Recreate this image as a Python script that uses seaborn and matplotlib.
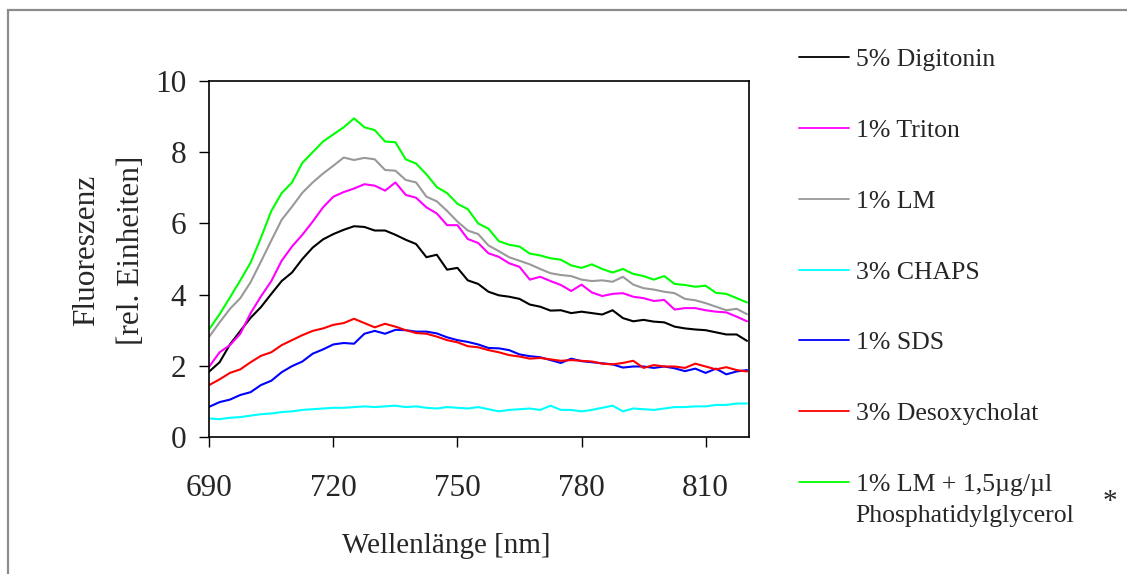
import numpy as np
import pandas as pd
import matplotlib
matplotlib.use("Agg")
import matplotlib.pyplot as plt
import matplotlib.patches as mpatches
import seaborn as sns

wellenlaenge = [690 + 2.5 * i for i in range(53)]

digitonin = [1.84, 2.10, 2.60, 2.98, 3.35, 3.65, 4.02, 4.38, 4.62, 5.00, 5.32, 5.55, 5.70, 5.82, 5.92,
             5.90, 5.80, 5.80, 5.68, 5.54, 5.42, 5.05, 5.12, 4.70, 4.75, 4.40, 4.30, 4.08, 3.98, 3.94,
             3.88, 3.72, 3.66, 3.55, 3.56, 3.48, 3.52, 3.48, 3.44, 3.56, 3.34, 3.25, 3.29, 3.24, 3.22,
             3.10, 3.05, 3.02, 3.00, 2.94, 2.88, 2.88, 2.70]
triton = [1.98, 2.38, 2.58, 2.90, 3.48, 3.95, 4.38, 4.95, 5.35, 5.68, 6.05, 6.45, 6.75, 6.88, 6.98,
          7.10, 7.06, 6.92, 7.15, 6.80, 6.72, 6.45, 6.28, 5.95, 5.95, 5.56, 5.45, 5.16, 5.06, 4.88,
          4.78, 4.42, 4.50, 4.38, 4.27, 4.10, 4.28, 4.06, 3.96, 4.02, 4.04, 3.94, 3.90, 3.82, 3.85,
          3.58, 3.62, 3.62, 3.56, 3.52, 3.50, 3.38, 3.25]
lm = [2.82, 3.22, 3.60, 3.90, 4.35, 4.93, 5.52, 6.10, 6.47, 6.86, 7.15, 7.40, 7.62, 7.85, 7.78,
      7.84, 7.80, 7.50, 7.48, 7.22, 7.15, 6.75, 6.62, 6.35, 6.05, 5.80, 5.70, 5.38, 5.22, 5.05,
      4.95, 4.85, 4.72, 4.60, 4.55, 4.52, 4.42, 4.38, 4.40, 4.36, 4.50, 4.28, 4.18, 4.14, 4.08,
      4.04, 3.88, 3.84, 3.76, 3.66, 3.56, 3.60, 3.45]
chaps = [0.52, 0.50, 0.54, 0.56, 0.60, 0.64, 0.66, 0.70, 0.72, 0.76, 0.78, 0.80, 0.82, 0.82, 0.84,
         0.86, 0.84, 0.86, 0.88, 0.84, 0.86, 0.82, 0.80, 0.84, 0.82, 0.80, 0.84, 0.78, 0.72, 0.76,
         0.78, 0.80, 0.76, 0.88, 0.76, 0.76, 0.72, 0.76, 0.82, 0.88, 0.72, 0.80, 0.78, 0.76, 0.80,
         0.84, 0.84, 0.86, 0.86, 0.90, 0.90, 0.94, 0.94]
sds = [0.85, 0.98, 1.05, 1.18, 1.26, 1.46, 1.58, 1.82, 1.99, 2.12, 2.34, 2.46, 2.60, 2.64, 2.62,
       2.90, 2.98, 2.90, 3.01, 3.00, 2.96, 2.96, 2.91, 2.80, 2.72, 2.67, 2.60, 2.50, 2.49, 2.44,
       2.32, 2.27, 2.24, 2.16, 2.08, 2.20, 2.13, 2.10, 2.07, 2.04, 1.95, 1.98, 1.98, 1.94, 1.98,
       1.93, 1.85, 1.92, 1.80, 1.92, 1.76, 1.84, 1.88]
desoxycholat = [1.46, 1.62, 1.80, 1.90, 2.10, 2.28, 2.38, 2.58, 2.72, 2.86, 2.98, 3.05, 3.15, 3.20, 3.32,
                3.20, 3.08, 3.18, 3.10, 3.00, 2.92, 2.90, 2.82, 2.72, 2.66, 2.55, 2.52, 2.44, 2.38, 2.30,
                2.26, 2.20, 2.22, 2.18, 2.14, 2.16, 2.14, 2.12, 2.06, 2.04, 2.08, 2.14, 1.94, 2.02, 1.98,
                1.98, 1.94, 2.06, 1.98, 1.90, 1.96, 1.88, 1.84]
lm_pg = [3.03, 3.45, 3.92, 4.40, 4.90, 5.60, 6.35, 6.85, 7.15, 7.70, 8.00, 8.30, 8.50, 8.70, 8.95,
         8.70, 8.62, 8.30, 8.28, 7.80, 7.68, 7.38, 7.02, 6.85, 6.55, 6.40, 6.00, 5.85, 5.50, 5.40,
         5.35, 5.15, 5.10, 5.02, 4.98, 4.82, 4.75, 4.85, 4.72, 4.62, 4.72, 4.58, 4.52, 4.42, 4.52,
         4.30, 4.27, 4.22, 4.25, 4.05, 4.02, 3.90, 3.78]

namen = ["5% Digitonin", "1% Triton", "1% LM", "3% CHAPS", "1% SDS", "3% Desoxycholat",
         "1% LM + 1,5µg/µl"]
farben = ["#000000", "#FF00FF", "#999999", "#00FFFF", "#0000FF", "#FF0000", "#00FF00"]
reihen = [digitonin, triton, lm, chaps, sds, desoxycholat, lm_pg]

df = pd.concat([pd.DataFrame({"nm": wellenlaenge, "wert": r, "probe": n})
                for n, r in zip(namen, reihen)], ignore_index=True)

sns.set_style("white")
plt.rcParams["font.family"] = ["Liberation Serif", "DejaVu Serif"]

fig = plt.figure(figsize=(11.27, 5.74), dpi=100)
ax = fig.add_axes([0.1857, 0.2387, 0.4793, 0.6202])

sns.lineplot(data=df, x="nm", y="wert", hue="probe", hue_order=namen,
             palette=dict(zip(namen, farben)), linewidth=1.5, ax=ax)

ax.set_xlim(690, 820.6)
ax.set_ylim(0, 10)
ax.set_xticks([690, 720, 750, 780, 810])
ax.set_yticks([0, 2, 4, 6, 8, 10])
for s in ax.spines.values():
    s.set_color("black")
    s.set_linewidth(1.2)
ax.tick_params(axis="both", direction="out", length=7.5, width=1.0, color="black",
               labelsize=22.5, bottom=True, left=True)
ax.tick_params(axis="x", pad=19)
ax.tick_params(axis="y", pad=9)

ax.set_xlabel("Wellenlänge [nm]", fontsize=21)
ax.set_ylabel("Fluoreszenz\n[rel. Einheiten]", fontsize=22.5, linespacing=1.7)
ax.xaxis.set_label_coords(0.438, -0.270)
ax.yaxis.set_label_coords(-0.118, 0.525)

handles, labels = ax.get_legend_handles_labels()
for h in handles:
    h.set_linewidth(1.3)
leg = ax.legend(handles, labels, loc="upper left", bbox_to_anchor=(0.709, 0.916),
                bbox_transform=fig.transFigure, frameon=False, fontsize=18.5,
                handlelength=1.95, handletextpad=0.25, labelspacing=1.86,
                borderpad=0, borderaxespad=0)

fig.canvas.draw()
bb = leg.get_texts()[-1].get_window_extent()
fw, fh = fig.bbox.width, fig.bbox.height
fig.text(bb.x0 / fw, (bb.y0 - 9) / fh, "Phosphatidylglycerol", fontsize=18.5, va="top", ha="left")
fig.text(1110 / 1127, 1 - 502 / 574, "*", fontsize=21, ha="center", va="center")

# grauer Rahmen um die Grafik
rahmen = mpatches.Rectangle((8 / 1127, -0.1), 1.2, 1 - 10 / 574 + 0.1, transform=fig.transFigure,
                            fill=False, edgecolor="#8c8c8c", linewidth=1.6, clip_on=False)
fig.patches.append(rahmen)

fig.savefig("out.png", dpi=100)
